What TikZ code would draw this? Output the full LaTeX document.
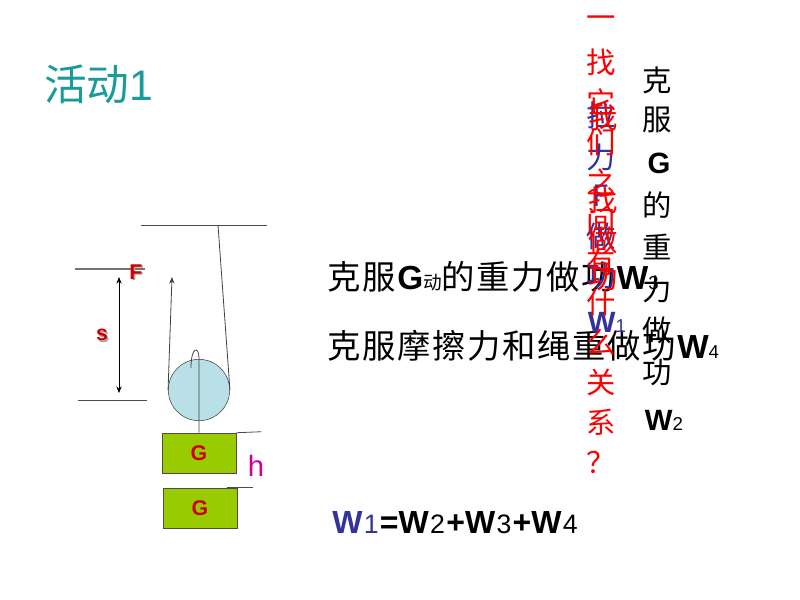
\documentclass[tikz,border=0pt]{standalone}
\usepackage{fontspec}
\setmainfont{Liberation Sans}
\newfontfamily\cjk{Noto Sans CJK SC}
\newfontfamily\cjkwide[LetterSpace=5]{Noto Sans CJK SC}
\usetikzlibrary{arrows.meta}
\definecolor{tealtitle}{HTML}{1A9A9A}
\definecolor{pulleyblue}{HTML}{B9E0E6}
\definecolor{blockgreen}{HTML}{99CC00}
\definecolor{wblue}{HTML}{333399}
\definecolor{magh}{HTML}{CC0099}
\definecolor{redg}{HTML}{CC0000}
\newcommand{\zh}[1]{{\cjkwide #1}}
\newcommand{\lo}[1]{{\fontsize{14}{14}\selectfont\mdseries #1}}
\newcommand{\eqlo}[1]{\hspace{1pt}{\fontsize{20}{20}\selectfont\mdseries #1}\hspace{1pt}}
\tikzset{
  rope/.style={draw=black!75, line width=0.6pt},
  mark line/.style={draw=black!70, line width=0.6pt},
  block/.style={draw=black!70, fill=blockgreen, minimum width=55.5pt, minimum height=30pt, inner sep=0pt, text=redg, font=\fontsize{16}{16}\selectfont\bfseries},
  line text/.style={anchor=west, inner sep=0pt, font=\fontsize{25}{25}\selectfont},
  column/.style={inner sep=0pt, font=\fontsize{22}{22}\selectfont\cjk},
  shadowed/.style={text=redg, font=\fontsize{16}{16}\selectfont\bfseries}
}
\begin{document}
\begin{tikzpicture}[x=0.75pt, y=-0.75pt]
  \useasboundingbox (0,0) rectangle (800,600);

  % title
  \node[anchor=west, inner sep=0pt, text=tealtitle, font=\fontsize{32}{32}\selectfont] (title) at (44,84) {{\cjk 活动}1};

  % pulley and ropes
  \coordinate (ceilL) at (141,225);
  \coordinate (ceilR) at (267,225);
  \draw[mark line] (ceilL) -- (ceilR);
  \node[circle, draw=black!75, fill=pulleyblue, minimum size=46pt, inner sep=0pt] (pulley) at (199,390) {};
  \coordinate (fix) at (218,225);
  \coordinate (pull) at (172,277);
  \draw[rope] (fix) -- (pulley.east);
  \draw[rope, -{Stealth[length=5pt,width=4pt]}] (pulley.west) -- (pull);

  % blocks
  \node[block] (g1) at (199,453) {G};
  \node[block] (g2) at (200,508) {G};
  \coordinate (hook) at (191,368);
  \draw[rope] (g1.north) -- (199,358) .. controls (199,346) and (191,346) .. (hook);
  \draw[mark line] (g1.north east) -- ++(25,-1);
  \draw[mark line] ([xshift=-8pt]g2.north east) -- ++(26,0);
  \node[text=magh, font=\fontsize{22}{22}\selectfont] (h) at (256,466) {h};

  % s and F
  \coordinate (topL) at (75,269);
  \coordinate (topR) at (145,269);
  \coordinate (botL) at (78,400);
  \coordinate (botR) at (147,400);
  \draw[draw=black!55, line width=0.8pt] (topL) -- (topR);
  \draw[mark line] (botL) -- (botR);
  \coordinate (sTop) at (119,277);
  \coordinate (sBot) at (119,393);
  \draw[line width=0.6pt, {Stealth[length=5pt,width=4pt]}-{Stealth[length=5pt,width=4pt]}] (sTop) -- (sBot);
  \node[shadowed, text=black!35] (Fsh) at (137.5,273.5) {F};
  \node[shadowed] (F) at (136,272) {F};
  \node[shadowed, text=black!35] (ssh) at (103.5,336.5) {s};
  \node[shadowed] (s) at (102,335) {s};

  % the two lines of text
  \node[line text] (w3) at (327,277) {\zh{克服}\textbf{G}\lo{\zh{动}}\zh{的重力做功}\textbf{W}\lo{3}};
  \node[line text] (w4) at (327,346) {\zh{克服摩擦力和绳重做功}\textbf{W}\lo{4}};

  % vertical columns
  \foreach \ch/\yy [count=\i] in {克/80,服/120,的/205,重/247,力/289,做/330,功/373}
    \node[column] (bk\i) at (657,\yy) {\ch};
  \node[inner sep=0pt, font=\fontsize{22}{22}\selectfont\bfseries] (bkg) at (659,163) {G};
  \node[inner sep=0pt, font=\fontsize{22}{22}\selectfont\bfseries] (bkw) at (664,420) {W\lo{2}};
  \foreach \ch/\yy [count=\i] in {拉/115,力/157,F/196,做/236,功/276}
    \node[column, text=wblue] (bl\i) at (601,\yy) {\ch};
  \node[inner sep=0pt, text=wblue, font=\fontsize{22}{22}\selectfont\bfseries] (blw) at (607,322) {W\lo{1}};
  \foreach \ch [count=\i] in {一,找,它,们,之,间,有,什,么,关,系,？}
    \node[column, text=red] (ra\i) at (601,{22+40*(\i-1)}) {\ch};
  \foreach \ch/\yy [count=\i] in {我/118,找/200,做/240,功/278}
    \node[column, text=red] (rb\i) at (603,\yy) {\ch};

  % result
  \node[line text, font=\fontsize{24}{24}\selectfont\bfseries] (sum) at (332,523) {\textcolor{wblue}{W\eqlo{1}}=W\eqlo{2}+W\eqlo{3}+W\eqlo{4}};
\end{tikzpicture}
\end{document}
